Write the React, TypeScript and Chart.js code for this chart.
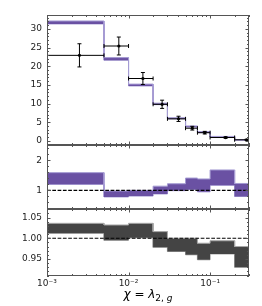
import React, { useEffect, useRef } from "react";
import { Chart, registerables } from "chart.js";

Chart.register(...registerables);
Chart.defaults.font.family = "'DejaVu Sans', sans-serif";
Chart.defaults.font.size = 9;
Chart.defaults.color = "#222";

// ---------- data ----------
const binEdges = [0.001, 0.005, 0.01, 0.02, 0.03, 0.05, 0.07, 0.1, 0.2, 0.3];
const dataCenters = [0.0025, 0.0076, 0.015, 0.0258, 0.041, 0.0605, 0.086, 0.155, 0.28];
const dataValues = [22.9, 25.4, 16.7, 9.8, 5.9, 3.4, 2.2, 0.9, 0.3];
const dataErrors = [3.1, 2.4, 1.6, 1.1, 0.7, 0.5, 0.35, 0.2, 0.12];
const theoryLow = [31.3, 21.6, 14.7, 9.7, 5.9, 3.7, 2.2, 1.0, 0.2];
const theoryHigh = [32.1, 22.3, 15.2, 10.1, 6.2, 4.0, 2.5, 1.2, 0.35];
const ratioLow = [1.2, 0.78, 0.81, 0.88, 0.99, 1.03, 0.95, 1.17, 0.8];
const ratioHigh = [1.59, 0.98, 1.0, 1.14, 1.22, 1.41, 1.38, 1.68, 1.23];
const lumiLow = [1.012, 0.995, 1.001, 0.978, 0.968, 0.96, 0.948, 0.962, 0.93];
const lumiHigh = [1.036, 1.032, 1.036, 1.016, 1.0, 1.0, 0.988, 0.994, 0.98];

const xTickValues = [0.001, 0.01, 0.1];
const xTickLabels = ["10\u207B\u00B3", "10\u207B\u00B2", "10\u207B\u00B9"];
const topTicks = [0, 5, 10, 15, 20, 25, 30];
const midTicks = [1, 2];
const botTicks = [0.95, 1.0, 1.05];
const botTickLabels = ["0.95", "1.00", "1.05"];

// ---------- helpers ----------
function steps(vals: number[]) {
  const pts: { x: number; y: number }[] = [];
  vals.forEach((v, i) => {
    pts.push({ x: binEdges[i], y: v });
    pts.push({ x: binEdges[i + 1], y: v });
  });
  return pts;
}

function band(low: number[], high: number[], fill: string, edge: string) {
  return [
    {
      data: steps(high),
      borderColor: edge,
      borderWidth: 1,
      backgroundColor: fill,
      fill: "+1",
      pointRadius: 0,
      order: 5,
    },
    {
      data: steps(low),
      borderColor: edge,
      borderWidth: 1,
      fill: false,
      pointRadius: 0,
      order: 5,
    },
  ];
}

function unityLine() {
  return {
    data: [
      { x: binEdges[0], y: 1 },
      { x: binEdges[binEdges.length - 1], y: 1 },
    ],
    borderColor: "#000",
    borderWidth: 1.1,
    borderDash: [3.7, 1.6],
    pointRadius: 0,
    fill: false,
    order: 1,
  };
}

function minorRange(min: number, max: number, step: number) {
  const out: number[] = [];
  const start = Math.ceil(min / step - 1e-9);
  for (let k = start; k * step <= max + 1e-9; k++) out.push(+(k * step).toFixed(6));
  return out;
}

function xMinor() {
  const out: number[] = [];
  for (let d = -3; d <= -1; d++) {
    for (let k = 1; k <= 9; k++) {
      const v = k * Math.pow(10, d);
      if (v >= 0.001 - 1e-12 && v <= 0.3 + 1e-12) out.push(v);
    }
  }
  return out;
}

function framePlugin(yMajor: number[], yMinorStep: number) {
  return {
    id: "frameTicks",
    afterDatasetsDraw(chart: any) {
      const { ctx, chartArea: a, scales } = chart;
      const xs = scales.x;
      const ys = scales.y;
      ctx.save();
      ctx.strokeStyle = "#555";
      ctx.lineWidth = 1;
      const seg = (x1: number, y1: number, x2: number, y2: number) => {
        ctx.beginPath();
        ctx.moveTo(x1, y1);
        ctx.lineTo(x2, y2);
        ctx.stroke();
      };
      xMinor().forEach((v) => {
        const len = xTickValues.some((m) => Math.abs(m - v) < 1e-12) ? 3.5 : 2;
        const px = Math.round(xs.getPixelForValue(v)) + 0.5;
        seg(px, a.bottom, px, a.bottom - len);
        seg(px, a.top, px, a.top + len);
      });
      minorRange(ys.min, ys.max, yMinorStep).forEach((v) => {
        const len = yMajor.some((m) => Math.abs(m - v) < 1e-9) ? 3.5 : 2;
        const py = Math.round(ys.getPixelForValue(v)) + 0.5;
        seg(a.left, py, a.left + len, py);
        seg(a.right, py, a.right - len, py);
      });
      ctx.strokeRect(Math.round(a.left) + 0.5, Math.round(a.top) + 0.5, Math.round(a.width) - 1, Math.round(a.height) - 1);
      ctx.restore();
    },
  };
}

function makeOptions(opts: {
  yMin: number;
  yMax: number;
  yTicks: number[];
  yLabels: string[];
  showX: boolean;
  padding: any;
}) {
  return {
    responsive: true,
    maintainAspectRatio: false,
    animation: false as const,
    events: [] as any[],
    layout: { padding: opts.padding },
    plugins: { legend: { display: false }, tooltip: { enabled: false } },
    scales: {
      x: {
        type: "logarithmic" as const,
        min: 0.001,
        max: 0.3,
        display: opts.showX,
        grid: { display: false, drawTicks: false },
        border: { display: false },
        ticks: {
          autoSkip: false,
          maxRotation: 0,
          padding: 2,
          color: "#222",
          callback: (_v: any, i: number) => xTickLabels[i],
        },
        afterBuildTicks: (s: any) => {
          s.ticks = xTickValues.map((v) => ({ value: v }));
        },
        afterFit: (s: any) => {
          s.height = opts.showX ? 18 : 0;
          s.paddingLeft = 0;
          s.paddingRight = 0;
          s.paddingTop = 0;
          s.paddingBottom = 0;
        },
      },
      y: {
        type: "linear" as const,
        min: opts.yMin,
        max: opts.yMax,
        grid: { display: false, drawTicks: false },
        border: { display: false },
        ticks: {
          padding: 5,
          color: "#222",
          callback: (_v: any, i: number) => opts.yLabels[i],
        },
        afterBuildTicks: (s: any) => {
          s.ticks = opts.yTicks.map((v) => ({ value: v }));
        },
        afterFit: (s: any) => {
          s.width = 47;
          s.paddingTop = 0;
          s.paddingBottom = 0;
          s.paddingLeft = 0;
          s.paddingRight = 0;
        },
      },
    },
  };
}

function topDatasets() {
  const hLines: any[] = [];
  const vLines: any[] = [];
  const vCaps: any[] = [];
  const hCaps: any[] = [];
  const marks: any[] = [];
  dataValues.forEach((v, i) => {
    const lo = binEdges[i];
    const hi = binEdges[i + 1];
    const c = dataCenters[i];
    const e = dataErrors[i];
    hLines.push({ x: lo, y: v }, { x: hi, y: v }, { x: hi, y: null });
    vLines.push({ x: c, y: v - e }, { x: c, y: v + e }, { x: c, y: null });
    vCaps.push({ x: c, y: v - e }, { x: c, y: v + e });
    hCaps.push({ x: lo, y: v }, { x: hi, y: v });
    marks.push({ x: c, y: v });
  });
  return [
    { data: marks, showLine: false, pointStyle: "circle", pointRadius: 1.6, pointBackgroundColor: "#000", pointBorderColor: "#000", pointBorderWidth: 0, order: 0 },
    { data: vCaps, showLine: false, pointStyle: "line", pointRadius: 2, pointBorderColor: "#000", pointBorderWidth: 1, order: 0 },
    { data: hCaps, showLine: false, pointStyle: "line", pointRotation: 90, pointRadius: 2, pointBorderColor: "#000", pointBorderWidth: 1, order: 0 },
    { data: hLines, borderColor: "#000", borderWidth: 1, pointRadius: 0, fill: false, spanGaps: false, order: 0 },
    { data: vLines, borderColor: "#000", borderWidth: 1, pointRadius: 0, fill: false, spanGaps: false, order: 0 },
    ...band(theoryLow, theoryHigh, "#6a51a3", "#a59bd3"),
  ];
}

export default function App() {
  const r1 = useRef<HTMLCanvasElement>(null);
  const r2 = useRef<HTMLCanvasElement>(null);
  const r3 = useRef<HTMLCanvasElement>(null);

  useEffect(() => {
    const charts: Chart[] = [];
    charts.push(
      new Chart(r1.current!, {
        type: "line",
        data: { datasets: topDatasets() as any },
        options: makeOptions({
          yMin: -1.1,
          yMax: 33.7,
          yTicks: topTicks,
          yLabels: topTicks.map(String),
          showX: false,
          padding: { top: 15, bottom: 5, left: 0, right: 13 },
        }) as any,
        plugins: [framePlugin(topTicks, 1)],
      })
    );
    charts.push(
      new Chart(r2.current!, {
        type: "line",
        data: { datasets: [unityLine(), ...band(ratioLow, ratioHigh, "#6a51a3", "#a59bd3")] as any },
        options: makeOptions({
          yMin: 0.38,
          yMax: 2.51,
          yTicks: midTicks,
          yLabels: midTicks.map(String),
          showX: false,
          padding: { top: 5, bottom: 6, left: 0, right: 13 },
        }) as any,
        plugins: [framePlugin(midTicks, 0.2)],
      })
    );
    charts.push(
      new Chart(r3.current!, {
        type: "line",
        data: { datasets: [unityLine(), ...band(lumiLow, lumiHigh, "#444444", "#a8a8a8")] as any },
        options: makeOptions({
          yMin: 0.909,
          yMax: 1.0705,
          yTicks: botTicks,
          yLabels: botTickLabels,
          showX: true,
          padding: { top: 5, bottom: 12, left: 0, right: 13 },
        }) as any,
        plugins: [framePlugin(botTicks, 0.01)],
      })
    );
    return () => charts.forEach((c) => c.destroy());
  }, []);

  const box = (top: number, h: number): React.CSSProperties => ({
    position: "absolute",
    left: 0,
    top,
    width: 262,
    height: h,
  });

  return (
    <div style={{ position: "fixed", left: 0, top: 0, width: 262, height: 306, background: "#fff", overflow: "hidden" }}>
      <div style={box(0, 150)}>
        <canvas ref={r1} style={{ display: "block" }} />
      </div>
      <div style={box(140, 75)}>
        <canvas ref={r2} style={{ display: "block" }} />
      </div>
      <div style={box(204, 102)}>
        <canvas ref={r3} style={{ display: "block" }} />
      </div>
      <div
        style={{
          position: "absolute",
          left: 47,
          width: 202,
          top: 287,
          textAlign: "center",
          fontFamily: "'DejaVu Sans', sans-serif",
          fontSize: 12,
          lineHeight: "14px",
          color: "#000",
        }}
      >
        <i>χ</i> = <i>λ</i>
        <sub style={{ fontSize: 9, verticalAlign: "-3px", lineHeight: 0 }}>
          2, <i>g</i>
        </sub>
      </div>
    </div>
  );
}
